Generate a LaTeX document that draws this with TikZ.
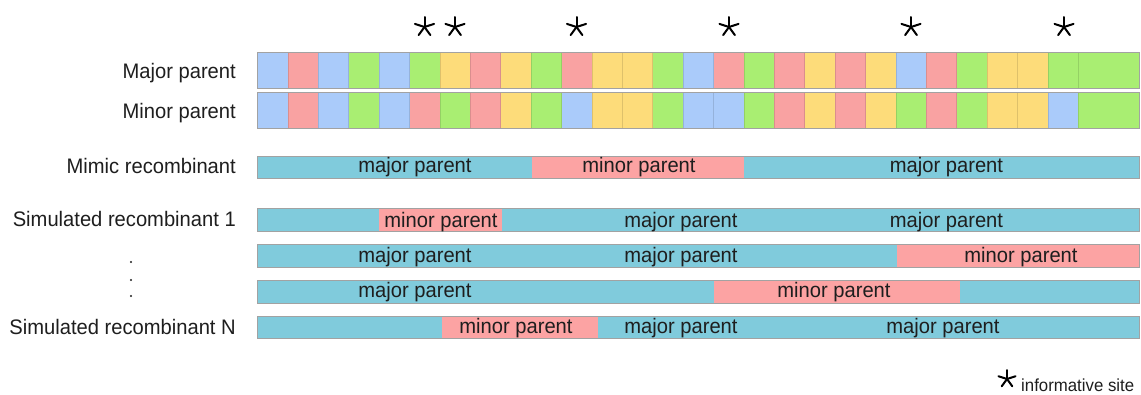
\documentclass[tikz,border=0pt]{standalone}
\usepackage{fontspec}
\setmainfont[FakeStretch=0.96]{Liberation Sans}
\definecolor{cB}{HTML}{AACBFA}
\definecolor{cR}{HTML}{F9A2A2}
\definecolor{cG}{HTML}{A9EE72}
\definecolor{cY}{HTML}{FDDC7A}
\definecolor{rB}{HTML}{80CBDC}
\definecolor{rR}{HTML}{FCA3A3}
\definecolor{txt}{HTML}{1E1E1E}
\definecolor{frame}{HTML}{A2A2A2}
\begin{document}
\begin{tikzpicture}[x=1pt,y=-1pt,
  lab/.style={anchor=base east, font=\fontsize{21}{23}\selectfont, inner sep=0, text=txt},
  seg/.style={anchor=base, font=\fontsize{21}{23}\selectfont, inner sep=0, text=txt},
  dotmark/.style={circle, fill=txt, inner sep=0, minimum size=2.4pt},
  barframe/.style={draw=frame, line width=0.9pt},
  cellsep/.style={draw=black, draw opacity=0.12, line width=0.7pt},
  astx/.style={minimum size=26pt, inner sep=0, path picture={
     \foreach \a in {90,18,162,-54,234}
       \draw[line width=2pt, line cap=round, black] (path picture bounding box.center) -- ++(\a:#1);}},
  astx/.default=10pt]
\useasboundingbox (0,0) rectangle (1141,394);

% ---- parents ----
\foreach \col [count=\i from 0] in {B,R,B,G,B,G,Y,R,Y,G,R,Y,Y,G,B,R,G,R,Y,R,Y,B,R,G,Y,Y,G,G,G} {
  \fill[fill=c\col] (257.5+\i*30.4,52) rectangle ++(30.4,36);
  \ifnum\i>0 \ifnum\i<28 \draw[cellsep] (257.5+\i*30.4,52) -- ++(0,36); \fi\fi
}
\draw[barframe] (257.5,52) rectangle (1139,88);
\foreach \col [count=\i from 0] in {B,R,B,G,B,R,G,R,Y,G,B,Y,Y,G,B,B,G,R,Y,R,Y,G,R,G,Y,Y,B,G,G} {
  \fill[fill=c\col] (257.5+\i*30.4,92) rectangle ++(30.4,36);
  \ifnum\i>0 \ifnum\i<28 \draw[cellsep] (257.5+\i*30.4,92) -- ++(0,36); \fi\fi
}
\draw[barframe] (257.5,92) rectangle (1139,128);

% ---- informative sites ----
\node[astx] (s1) at (424.5,27) {};
\node[astx] (s2) at (455,27) {};
\node[astx] (s3) at (576.5,27) {};
\node[astx] (s4) at (729,27) {};
\node[astx] (s5) at (911,27) {};
\node[astx] (s6) at (1064,27) {};

% ---- row labels ----
\node[lab] (lmaj) at (236,78.3) {Major parent};
\node[lab] (lmin) at (236,118.3) {Minor parent};
\node[lab] (lmim) at (236,173.3) {Mimic recombinant};
\node[lab] (lsim1) at (236,226) {Simulated recombinant 1};
\node[dotmark] (d1) at (131,262) {};
\node[dotmark] (d2) at (131,280) {};
\node[dotmark] (d3) at (131,296) {};
\node[lab] (lsimN) at (236,334.3) {Simulated recombinant N};

% ---- mimic recombinant ----
\fill[rB] (257.5,156) rectangle (532,178);
\fill[rR] (532,156) rectangle (744,178);
\fill[rB] (744,156) rectangle (1139,178);
\draw[barframe] (257.5,156) rectangle (1139,178);
\node[seg] (m1) at (415,172.7) {major parent};
\node[seg] (m2) at (639,172.7) {minor parent};
\node[seg] (m3) at (946.5,172.7) {major parent};

% ---- simulated recombinant 1 ----
\fill[rB] (257.5,208.5) rectangle (1139,231);
\fill[rR] (379,208.5) rectangle (501.5,231);
\draw[barframe] (257.5,208.5) rectangle (1139,231);
\node[seg] (a1) at (441,227.3) {minor parent};
\node[seg] (a2) at (681,227.3) {major parent};
\node[seg] (a3) at (946.5,227.3) {major parent};

% ---- row 3 ----
\fill[rB] (257.5,244.5) rectangle (1139,267);
\fill[rR] (897,244.5) rectangle (1139,267);
\draw[barframe] (257.5,244.5) rectangle (1139,267);
\node[seg] (b1) at (415,262) {major parent};
\node[seg] (b2) at (681,262) {major parent};
\node[seg] (b3) at (1021,262) {minor parent};

% ---- row 4 ----
\fill[rB] (257.5,280.5) rectangle (1139,303);
\fill[rR] (714,280.5) rectangle (960,303);
\draw[barframe] (257.5,280.5) rectangle (1139,303);
\node[seg] (c1) at (415,297) {major parent};
\node[seg] (c2) at (834,297) {minor parent};

% ---- simulated recombinant N ----
\fill[rB] (257.5,316) rectangle (1139,338.5);
\fill[rR] (441.5,316) rectangle (597.5,338.5);
\draw[barframe] (257.5,316) rectangle (1139,338.5);
\node[seg] (e1) at (516,333.3) {minor parent};
\node[seg] (e2) at (681,333.3) {major parent};
\node[seg] (e3) at (943,333.3) {major parent};

% ---- legend ----
\node[astx=9pt] (ls) at (1007,379) {};
\node[anchor=base west, font=\fontsize{17.5}{19}\selectfont, inner sep=0, text=txt] (lt) at (1021,391.5) {informative site};
\end{tikzpicture}
\end{document}
